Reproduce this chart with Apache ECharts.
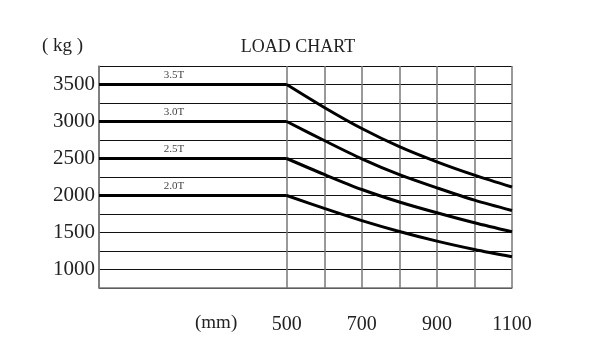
<!DOCTYPE html>
<html><head><meta charset="utf-8">
<script src="https://cdn.jsdelivr.net/npm/echarts@6/dist/echarts.min.js"></script>
<style>html,body{margin:0;padding:0;background:#fff}#c{width:600px;height:361px}</style>
</head><body><div id="c"></div>
<script>
const distances = [0, 500, 600, 700, 800, 900, 1000, 1100];
const seriesNames = ['3.5T', '3.0T', '2.5T', '2.0T'];
const load35 = [3500, 3500, 3190, 2905, 2660, 2455, 2275, 2115];
const load30 = [3000, 3000, 2743, 2496, 2282, 2104, 1937, 1797];
const load25 = [2500, 2500, 2284, 2081, 1912, 1766, 1631, 1509];
const load20 = [2000, 2000, 1825, 1660, 1513, 1383, 1270, 1171];
const xTickLabels = [500, 700, 900, 1100];
const yTickLabels = [1000, 1500, 2000, 2500, 3000, 3500];
const labelAt = 200;

const FONT = 'Liberation Serif';
const allLoads = [load35, load30, load25, load20];

const series = [];
allLoads.forEach((vals, si) => {
  const pts = vals.map((v, i) => [distances[i], v]);
  series.push({
    name: seriesNames[si], type: 'line', symbol: 'none', silent: true,
    lineStyle: { color: '#000', width: 3 },
    data: pts.slice(0, 2),
    markPoint: {
      symbol: 'circle', symbolSize: 0, silent: true,
      label: { show: true, position: 'top', distance: 4, formatter: seriesNames[si],
        fontFamily: FONT, fontSize: 11, color: '#444' },
      data: [{ coord: [labelAt, vals[0]] }]
    }
  });
  series.push({
    name: seriesNames[si], type: 'line', symbol: 'none', silent: true,
    smooth: 0.3,
    lineStyle: { color: '#000', width: 3 },
    data: pts.slice(1)
  });
});

const vColors = [];
for (let v = 0; v <= 1100; v += 100) vColors.push(v > 0 && v < 500 ? 'rgba(0,0,0,0)' : '#777');

const chart = echarts.init(document.getElementById('c'));
chart.setOption({
  animation: false,
  backgroundColor: '#fff',
  title: { text: 'LOAD CHART', left: 293, top: 33, textAlign: 'center',
    textStyle: { fontFamily: FONT, fontSize: 18, fontWeight: 'normal', color: '#222' } },
  graphic: [
    { type: 'text', left: 42, top: 37, style: { text: '( kg )', font: '19px ' + FONT, fill: '#222' } },
    { type: 'text', left: 195, top: 314, style: { text: '(mm)', font: '19px ' + FONT, fill: '#222' } }
  ],
  grid: { left: 99, right: 88, top: 66, bottom: 73, show: false },
  xAxis: {
    type: 'value', min: 0, max: 1100, interval: 100,
    axisLine: { show: true, lineStyle: { color: '#777', width: 1.5 } },
    axisTick: { show: false },
    splitLine: { show: true, lineStyle: { color: vColors, width: 1.5 } },
    axisLabel: { margin: 27, fontFamily: FONT, fontSize: 20, color: '#222',
      formatter: v => xTickLabels.includes(v) ? String(v) : '' }
  },
  yAxis: {
    type: 'value', min: 750, max: 3750, interval: 250,
    axisLine: { show: true, lineStyle: { color: '#777', width: 1.5 } },
    axisTick: { show: false },
    splitLine: { show: true, lineStyle: { color: '#111', width: 1 } },
    axisLabel: { margin: 4, fontFamily: FONT, fontSize: 21, color: '#222',
      formatter: v => yTickLabels.includes(v) ? String(v) : '' }
  },
  series: series
});
</script></body></html>
